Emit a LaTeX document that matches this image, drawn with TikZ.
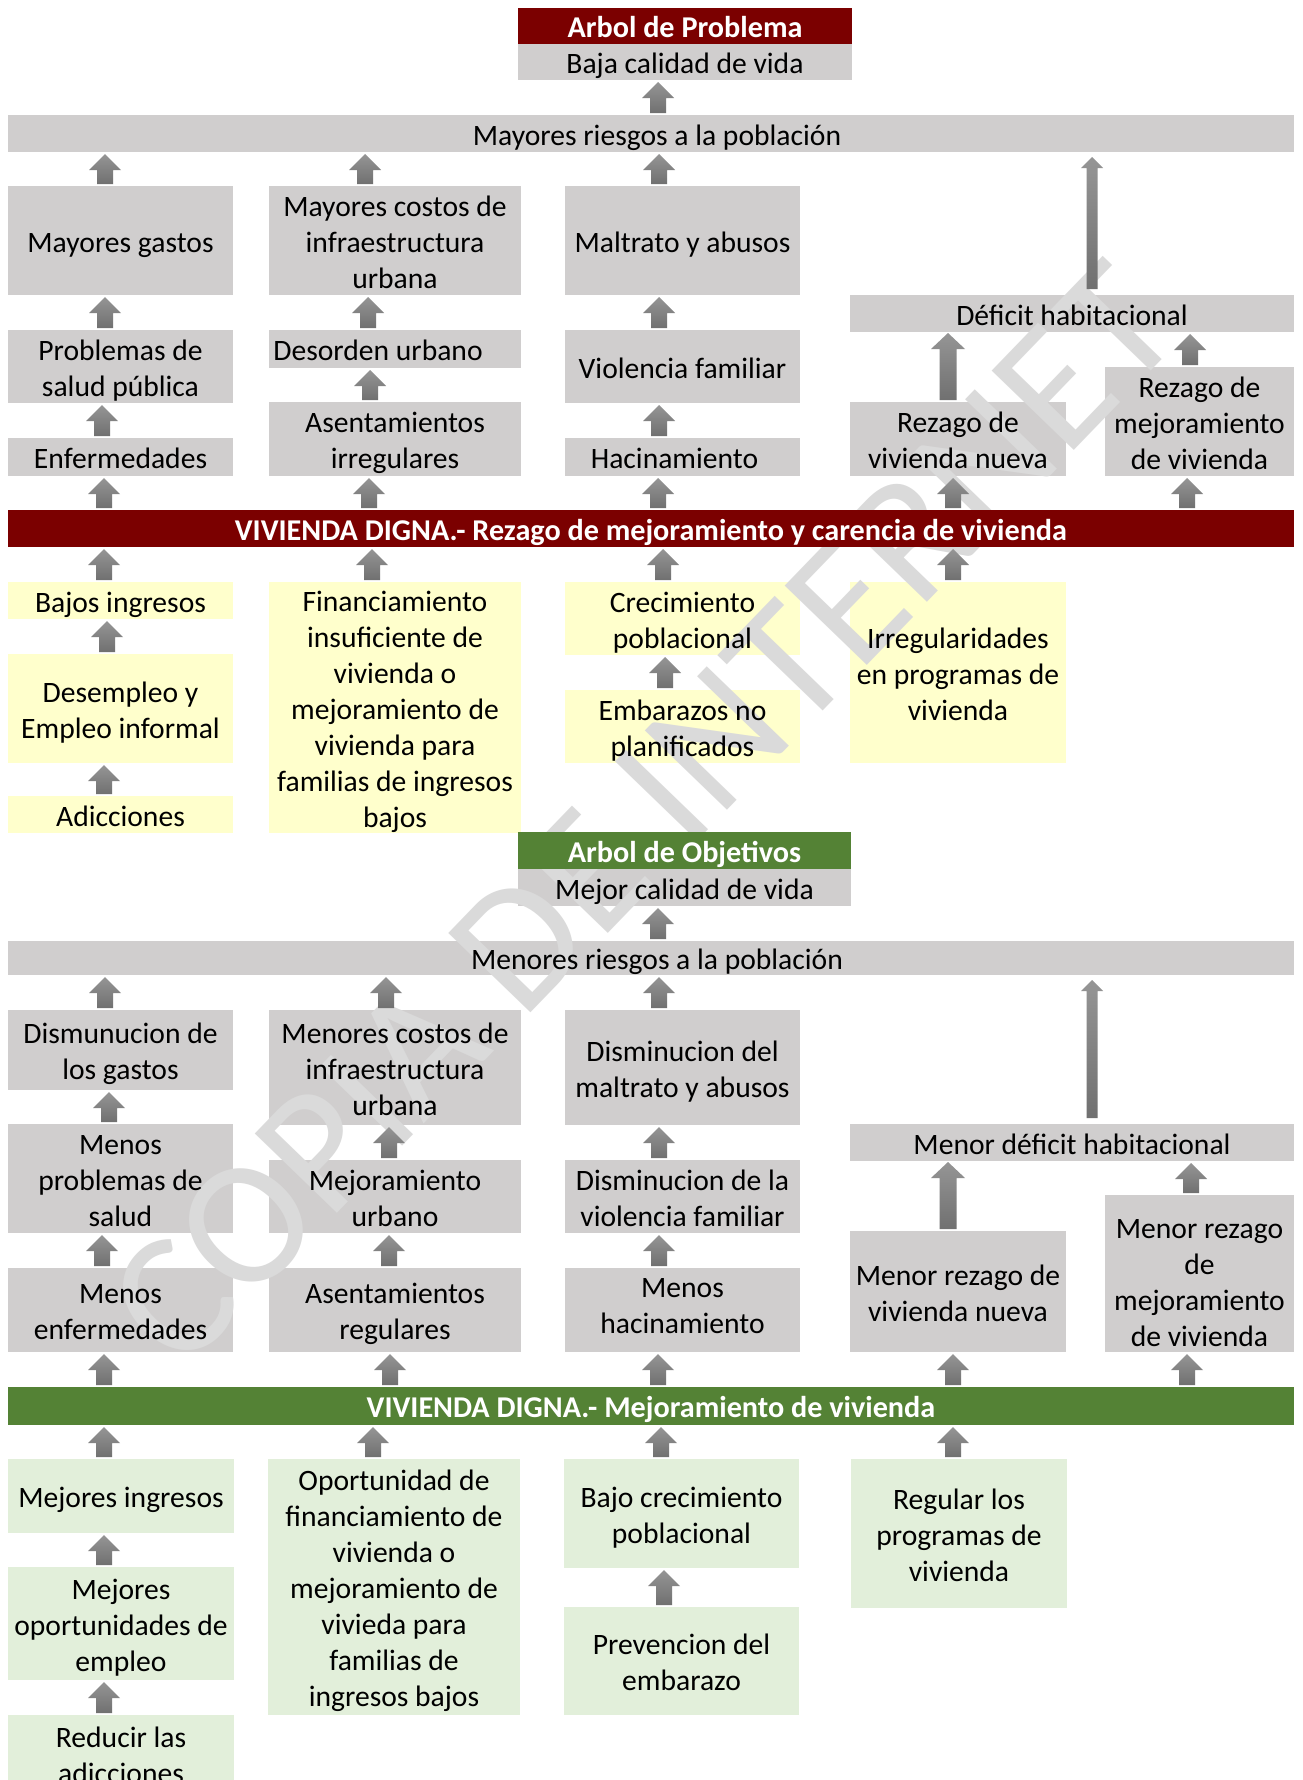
\documentclass[tikz,border=0pt]{standalone}
\usepackage{fontspec}
\setmainfont{Carlito}
\usetikzlibrary{calc}
\definecolor{probred}{HTML}{7B0000}
\definecolor{objgreen}{HTML}{548235}
\definecolor{cellgray}{HTML}{D0CECE}
\definecolor{causeyel}{HTML}{FFFFCC}
\definecolor{meangreen}{HTML}{E2EFDA}
\definecolor{arrtop}{HTML}{959595}
\definecolor{arrbot}{HTML}{707070}
\definecolor{wmark}{HTML}{DADADA}
\newcommand\fsz{\fontsize{29.6}{36}\selectfont}
\newcommand\fszb{\fontsize{30.2}{36}\selectfont\bfseries}
\newcommand\celltext[1]{\raisebox{-4.5pt}[\height][\depth]{\begin{tabular}{@{}c@{}}#1\end{tabular}}}
\newcommand\lighttexts{}
% light cell: fill now, text later. [#1 text yshift], #2 style, #3 name, #4 x1, #5 y1, #6 x2, #7 y2, #8 text
\newcommand\cell[8][0pt]{\node[#2,minimum width={(#6)-(#4)},minimum height={(#7)-(#5)}] (#3)
  at ({((#4)+(#6))/2},{((#5)+(#7))/2}) {};%
  \xdef\lighttexts{\unexpanded\expandafter{\lighttexts
    \node[cellbase,yshift=#1] (#3-t) at (#3.center) {\celltext{#8}};}}}
% dark cell: fill and text together
\newcommand\dcell[7]{\node[#1,minimum width={(#5)-(#3)},minimum height={(#6)-(#4)}] (#2)
  at ({((#3)+(#5))/2},{((#4)+(#6))/2}) {\celltext{#7}};}
% block arrow: #1 x, #2 from node (bottom), #3 to node (top), #4 shaft half, #5 head half, #6 head length, #7 bottom inset, #8 top inset
\newcommand\barr[8]{%
  \path (#1,0 |- #2.north) coordinate (ab) (#1,0 |- #3.south) coordinate (at);
  \shade[top color=arrtop,bottom color=arrbot]
    ($(ab)+(-#4,-#7)$) -- ($(at)+(-#4,#6+#8)$) -- ($(at)+(-#5,#6+#8)$) -- ($(at)+(0,#8)$)
    -- ($(at)+(#5,#6+#8)$) -- ($(at)+(#4,#6+#8)$) -- ($(ab)+(#4,-#7)$) -- cycle;}
\newcommand\sarr[3]{\barr{#1}{#2}{#3}{8}{16}{16}{2}{2}}
\newcommand\tarr[3]{\barr{#1}{#2}{#3}{5.5}{11}{11}{6}{5}}
\newcommand\marr[3]{\barr{#1}{#2}{#3}{8.5}{17}{16}{2}{1}}
\begin{document}
\begin{tikzpicture}[x=1pt,y=-1pt,
  cellbase/.style={inner sep=0pt,outer sep=0pt,align=center,font=\fsz,text=black},
  gcell/.style={cellbase,fill=cellgray},
  ycell/.style={cellbase,fill=causeyel},
  lgcell/.style={cellbase,fill=meangreen},
  redhead/.style={cellbase,fill=probred,text=white,font=\fszb},
  greenhead/.style={cellbase,fill=objgreen,text=white,font=\fszb},
  watermark/.style={inner sep=0pt,text=wmark,
    font=\fontsize{178}{182}\selectfont}]
\clip (0,0) rectangle (1302,1780);
\fill[white] (0,0) rectangle (1302,1780);

% ===== Arbol de Problema: light cells =====
\cell{gcell}{bcv}{518}{43}{852}{80}{Baja calidad de vida}
\cell{gcell}{mrp}{8}{115}{1294}{152}{\kern12pt Mayores riesgos a la población}

\cell{gcell}{mg}{8}{186}{233}{295}{Mayores gastos}
\cell{gcell}{psp}{8}{330}{233}{403}{Problemas de\\salud pública}
\cell{gcell}{enf}{8}{438}{233}{476}{Enfermedades}

\cell{gcell}{mci}{269}{186}{521}{295}{Mayores costos de\\infraestructura\\urbana}
\cell{gcell}{du}{269}{330}{521}{368}{Desorden urbano\kern34pt}
\cell{gcell}{ai}{269}{402}{521}{476}{Asentamientos\\irregulares}

\cell{gcell}{mya}{565}{186}{800}{295}{Maltrato y abusos}
\cell{gcell}{vf}{565}{330}{800}{403}{Violencia familiar}
\cell{gcell}{hac}{565}{438}{800}{476}{Hacinamiento\kern16pt}

\cell{gcell}{dh}{850}{295}{1294}{332}{Déficit habitacional}
\cell{gcell}{rvn}{850}{402}{1066}{476}{Rezago de\\vivienda nueva}
\cell{gcell}{rmv}{1105}{367}{1294}{476}{Rezago de\\mejoramiento\\de vivienda}

\cell{ycell}{bi}{8}{582}{233}{619}{Bajos ingresos}
\cell{ycell}{dei}{8}{654}{233}{763}{Desempleo y\\Empleo informal}
\cell{ycell}{adi}{8}{796}{233}{833}{Adicciones}
\cell{ycell}{fin}{269}{582}{521}{833}{Financiamiento\\insuficiente de\\vivienda o\\mejoramiento de\\vivienda para\\familias de ingresos\\bajos}
\cell{ycell}{cp}{565}{582}{800}{655}{Crecimiento\\poblacional}
\cell{ycell}{enp}{565}{690}{800}{763}{Embarazos no\\planificados}
\cell{ycell}{irr}{850}{582}{1066}{763}{Irregularidades\\en programas de\\vivienda}

% ===== Arbol de Objetivos: light cells =====
\cell{gcell}{mcv}{518}{869}{851}{906}{Mejor calidad de vida}
\cell{gcell}{mrpo}{8}{941}{1294}{975}{\kern12pt Menores riesgos a la población}

\cell{gcell}{dlg}{8}{1010}{233}{1090}{Dismunucion de\\los gastos}
\cell{gcell}{mps}{8}{1124}{233}{1233}{Menos\\problemas de\\salud}
\cell{gcell}{menf}{8}{1268}{233}{1352}{Menos\\enfermedades}

\cell{gcell}{mcio}{269}{1010}{521}{1125}{Menores costos de\\infraestructura\\urbana}
\cell{gcell}{mu}{269}{1160}{521}{1233}{Mejoramiento\\urbano}
\cell{gcell}{ar}{269}{1268}{521}{1352}{Asentamientos\\regulares}

\cell{gcell}{dma}{565}{1010}{800}{1125}{Disminucion del\\maltrato y abusos}
\cell{gcell}{dvf}{565}{1160}{800}{1233}{Disminucion de la\\violencia familiar}
\cell[6pt]{gcell}{mh}{565}{1268}{800}{1352}{Menos\\hacinamiento}

\cell{gcell}{mdh}{850}{1124}{1294}{1161}{Menor déficit habitacional}
\cell{gcell}{mrvn}{850}{1231}{1066}{1352}{Menor rezago de\\vivienda nueva}
\cell[-7pt]{gcell}{mrmv}{1105}{1195}{1294}{1352}{Menor rezago\\de\\mejoramiento\\de vivienda}

\cell{lgcell}{mi}{8}{1459}{234}{1533}{Mejores ingresos}
\cell{lgcell}{moe}{8}{1567}{234}{1680}{Mejores\\oportunidades de\\empleo}
\cell{lgcell}{rla}{8}{1715}{234}{1793}{Reducir las\\adicciones}
\cell{lgcell}{ofv}{268}{1459}{520}{1715}{Oportunidad de\\financiamiento de\\vivienda o\\mejoramiento de\\vivieda para\\familias de\\ingresos bajos}
\cell{lgcell}{bcp}{564}{1459}{799}{1568}{Bajo crecimiento\\poblacional}
\cell{lgcell}{pe}{564}{1607}{799}{1715}{Prevencion del\\embarazo}
\cell{lgcell}{rlp}{851}{1459}{1067}{1608}{Regular los\\programas de\\vivienda}

% ===== watermark =====
\node[watermark,rotate=46] (wm) at (643,815) {COPIA DE INTERNET};

% ===== dark header cells =====
\dcell{redhead}{hp}{518}{8}{852}{43}{Arbol de Problema}
\dcell{redhead}{vd1}{8}{510}{1294}{547}{VIVIENDA DIGNA.- Rezago de mejoramiento y carencia de vivienda}
\dcell{greenhead}{ho}{518}{832}{851}{869}{Arbol de Objetivos}
\dcell{greenhead}{vd2}{8}{1387}{1294}{1425}{VIVIENDA DIGNA.- Mejoramiento de vivienda}

% ===== arrows, problem tree =====
\sarr{658}{mrp}{bcv}
\sarr{105}{mg}{mrp}
\sarr{365}{mci}{mrp}
\sarr{659}{mya}{mrp}
\tarr{1092}{dh}{mrp}
\sarr{105}{psp}{mg}
\sarr{368}{du}{mci}
\sarr{659}{vf}{mya}
\sarr{102}{enf}{psp}
\sarr{370}{ai}{du}
\sarr{659}{hac}{vf}
\marr{948}{rvn}{dh}
\sarr{1190}{rmv}{dh}
\sarr{104}{vd1}{enf}
\sarr{369}{vd1}{ai}
\sarr{658}{vd1}{hac}
\sarr{953}{vd1}{rvn}
\sarr{1187}{vd1}{rmv}
\sarr{104}{bi}{vd1}
\sarr{372}{fin}{vd1}
\sarr{663}{cp}{vd1}
\sarr{953}{irr}{vd1}
\sarr{107}{dei}{bi}
\sarr{104}{adi}{dei}
\sarr{665}{enp}{cp}

% ===== arrows, objective tree =====
\sarr{658}{mrpo}{mcv}
\sarr{105}{dlg}{mrpo}
\sarr{386}{mcio}{mrpo}
\sarr{659}{dma}{mrpo}
\tarr{1092}{mdh}{mrpo}
\sarr{109}{mps}{dlg}
\sarr{389}{mu}{mcio}
\sarr{659}{dvf}{dma}
\sarr{102}{menf}{mps}
\sarr{389}{ar}{mu}
\sarr{659}{mh}{dvf}
\marr{948}{mrvn}{mdh}
\sarr{1191}{mrmv}{mdh}
\sarr{104}{vd2}{menf}
\sarr{390}{vd2}{ar}
\sarr{658}{vd2}{mh}
\sarr{953}{vd2}{mrvn}
\sarr{1187}{vd2}{mrmv}
\sarr{104}{mi}{vd2}
\sarr{373}{ofv}{vd2}
\sarr{661}{bcp}{vd2}
\sarr{953}{rlp}{vd2}
\sarr{104}{moe}{mi}
\sarr{104}{rla}{moe}
\sarr{664}{pe}{bcp}

% ===== texts of light cells (on top) =====
\lighttexts
\end{tikzpicture}
\end{document}
